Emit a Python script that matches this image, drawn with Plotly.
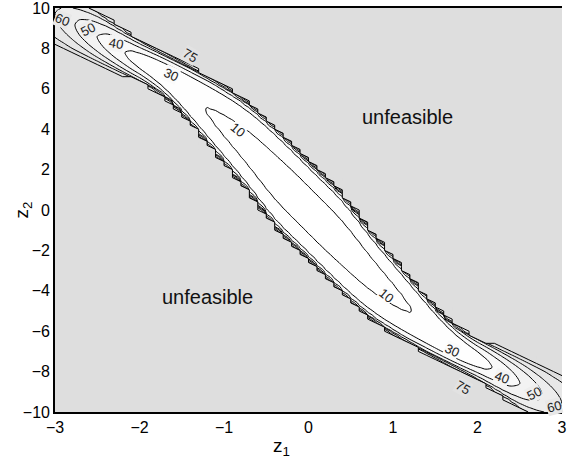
import numpy as np
import plotly.graph_objects as go

# contour levels of the cost surface
levels = [10, 30, 40, 50, 60, 75]

# upper edge of the feasible band (z2 as a function of z1);
# the lower edge is its point reflection through the origin
edge_z1 = [-3.5, -3.0, -2.5, -2.0, -1.36, -0.99, -0.6, -0.135, 0.11, 0.45, 0.64, 1.01, 1.74, 2.67, 3.0, 3.5]
edge_z2 = [12.0, 11.2, 10.0, 8.53, 7.15, 6.31, 5.18, 3.27, 2.14, 1.01, -0.32, -2.09, -5.72, -7.49, -8.18, -8.9]

# cost along the valley floor, both halves
ridge_z1 = [-2.98, -2.80, -2.51, -2.16, -1.22, 0.0, 1.22, 2.16, 2.51, 2.80, 2.98]
ridge_cost = [60, 50, 40, 30, 10, 1.0, 10, 30, 40, 50, 60]

# growth of the cost across the valley, by |z1|
gain_z1 = [0.0, 1.0, 2.0, 2.5, 3.0]
gain_val = [44.0, 46.0, 48.0, 38.0, 27.0]
wall_gain = 60.0       # steep rise right at the band edge
wall_power = 19

# inline contour labels: level, z1, z2, text angle
label_level = [60, 50, 40, 75, 30, 10, 10, 30, 40, 50, 60, 75]
label_z1 = [-2.92, -2.61, -2.28, -1.40, -1.63, -0.84, 0.92, 1.70, 2.29, 2.67, 2.91, 1.83]
label_z2 = [9.41, 8.92, 8.23, 7.64, 6.71, 4.00, -4.25, -6.95, -8.28, -9.07, -9.71, -8.77]
label_angle = [22, -28, 10, 30, 25, 40, 40, 25, 20, -28, -15, 30]

x_ticks = [-3, -2, -1, 0, 1, 2, 3]
y_ticks = [-10, -8, -6, -4, -2, 0, 2, 4, 6, 8, 10]

# evaluation grid
z1 = np.linspace(-3, 3, 61)
z2 = np.linspace(-10, 10, 101)
Z1, Z2 = np.meshgrid(z1, z2)

# smooth the edge readings with a gaussian kernel
fine = np.linspace(-3.5, 3.5, 701)
raw = np.interp(fine, edge_z1, edge_z2)
step = fine[1] - fine[0]
kx = np.arange(-40, 41) * step
kern = np.exp(-0.5 * (kx / 0.16) ** 2)
kern /= kern.sum()
padded = np.concatenate([raw[0] + (raw[0] - raw[1]) * np.arange(40, 0, -1),
                         raw,
                         raw[-1] + (raw[-1] - raw[-2]) * np.arange(1, 41)])
smooth = np.convolve(padded, kern, mode="same")[40:-40]

upper = np.interp(Z1, fine, smooth)
lower = -np.interp(-Z1, fine, smooth)
mid = 0.5 * (upper + lower)
half = 0.5 * (upper - lower)
d = (Z2 - mid) / half
valid = np.abs(d) < 1.0

floor_fit = np.polyfit(ridge_z1, ridge_cost, 4)
gain = np.interp(np.abs(Z1), gain_z1, gain_val)
cost = np.polyval(floor_fit, Z1) + gain * d ** 2 + wall_gain * np.abs(d) ** wall_power
cost = np.minimum(cost, 1e4)

# map cost onto level index so the filled bands are evenly spaced
level_axis = [0.0] + levels + [200.0]
band_index = np.interp(cost, level_axis, np.arange(len(level_axis)))

band_colors = ["#ffffff", "#fdfdfd", "#f7f7f7", "#f1f1f1", "#ebebeb", "#e5e5e5", "#dedede"]
nb = len(levels)
scale = []
for k, c in enumerate(band_colors[:-1]):
    scale.append([k / nb + (1e-4 if k else 0.0), c])
    scale.append([(k + 1) / nb - 2e-4, c])
scale.append([1.0, band_colors[-1]])

# cells that touch unfeasible nodes: a cell keeps its half when three
# corners are valid, otherwise it is masked out completely
ny, nx = valid.shape
nvalid = (valid[:-1, :-1].astype(int) + valid[:-1, 1:] + valid[1:, 1:] + valid[1:, :-1])
mask_x, mask_y = [], []
out_x, out_y = [], []
for j in range(ny - 1):
    for i in range(nx - 1):
        n = nvalid[j, i]
        if n == 0 or n == 4:
            continue
        corners = [(j, i), (j, i + 1), (j + 1, i + 1), (j + 1, i)]
        if n == 3:
            m = [k for k, (a, b) in enumerate(corners) if not valid[a, b]][0]
            tri = [corners[(m - 1) % 4], corners[m], corners[(m + 1) % 4]]
            mask_x += [z1[b] for a, b in tri] + [None]
            mask_y += [z2[a] for a, b in tri] + [None]
            p, q = corners[(m - 1) % 4], corners[(m + 1) % 4]
            out_x += [z1[p[1]], z1[q[1]], None]
            out_y += [z2[p[0]], z2[q[0]], None]
        else:
            mask_x += [z1[b] for a, b in corners] + [None]
            mask_y += [z2[a] for a, b in corners] + [None]

white = nvalid >= 3
for j in range(1, ny - 1):
    for i in range(nx - 1):
        if valid[j, i] and valid[j, i + 1] and white[j - 1, i] != white[j, i]:
            out_x += [z1[i], z1[i + 1], None]
            out_y += [z2[j], z2[j], None]
for j in range(ny - 1):
    for i in range(1, nx - 1):
        if valid[j, i] and valid[j + 1, i] and white[j, i - 1] != white[j, i]:
            out_x += [z1[i], z1[i], None]
            out_y += [z2[j], z2[j + 1], None]

font = "Liberation Sans, Arial, Helvetica, sans-serif"

fig = go.Figure()
fig.add_trace(go.Contour(
    x=z1, y=z2, z=band_index,
    contours=dict(start=1, end=nb, size=1, coloring="fill", showlines=False),
    colorscale=scale, showscale=False, hoverinfo="skip",
    line=dict(width=0),
))

fig.add_trace(go.Scatter(x=mask_x, y=mask_y, mode="none", fill="toself",
                         fillcolor=band_colors[-1], hoverinfo="skip"))
fig.add_trace(go.Scatter(x=out_x, y=out_y, mode="lines",
                         line=dict(color="black", width=1.0), hoverinfo="skip"))

for lv in levels:
    fig.add_trace(go.Contour(
        x=z1, y=z2, z=cost,
        contours=dict(start=lv, end=lv, size=1, coloring="none", showlabels=False),
        line=dict(color="black", width=1.0),
        showscale=False, hoverinfo="skip",
    ))

# level labels sitting on their lines
label_bg = {10: "#fdfdfd", 30: "#fbfbfb", 40: "#f4f4f4", 50: "#eeeeee", 60: "#e8e8e8", 75: "#e2e2e2"}
for lv, lx, ly, ang in zip(label_level, label_z1, label_z2, label_angle):
    fig.add_annotation(x=lx, y=ly, xref="x", yref="y", text=str(lv), textangle=ang,
                       showarrow=False, bgcolor=label_bg[lv], borderpad=0,
                       font=dict(family=font, size=13, color="#222222"))

fig.add_annotation(x=1.17, y=4.6, xref="x", yref="y", text="unfeasible",
                   showarrow=False, font=dict(family=font, size=20, color="#111111"))
fig.add_annotation(x=-1.19, y=-4.3, xref="x", yref="y", text="unfeasible",
                   showarrow=False, font=dict(family=font, size=20, color="#111111"))

# axis titles
fig.add_annotation(x=-0.32, y=-0.086, xref="x", yref="paper", text="z<sub>1</sub>",
                   showarrow=False, xanchor="center", yanchor="middle",
                   font=dict(family=font, size=19, color="black"))
fig.add_annotation(x=-0.064, y=0.0, xref="paper", yref="y", text="z<sub>2</sub>",
                   textangle=-90, showarrow=False, xanchor="center", yanchor="middle",
                   font=dict(family=font, size=19, color="black"))

fig.update_layout(
    width=567, height=461,
    margin=dict(l=55, r=0, t=5, b=49),
    paper_bgcolor="white", plot_bgcolor="white",
    showlegend=False,
    font=dict(family=font, size=16, color="black"),
)
fig.update_xaxes(range=[-3, 3], tickvals=x_ticks,
                 ticktext=[str(v).replace("-", "\u2212") for v in x_ticks],
                 showgrid=False, zeroline=False, showline=True, linecolor="black",
                 linewidth=1.6, mirror=True, ticks="", ticklabeloverflow="allow")
fig.update_yaxes(range=[-10, 10], tickvals=y_ticks,
                 ticktext=[str(v).replace("-", "\u2212") for v in y_ticks],
                 showgrid=False, zeroline=False, showline=True, linecolor="black",
                 linewidth=1.6, mirror=False, ticks="", ticklabeloverflow="allow")

fig.write_html("out.html")
